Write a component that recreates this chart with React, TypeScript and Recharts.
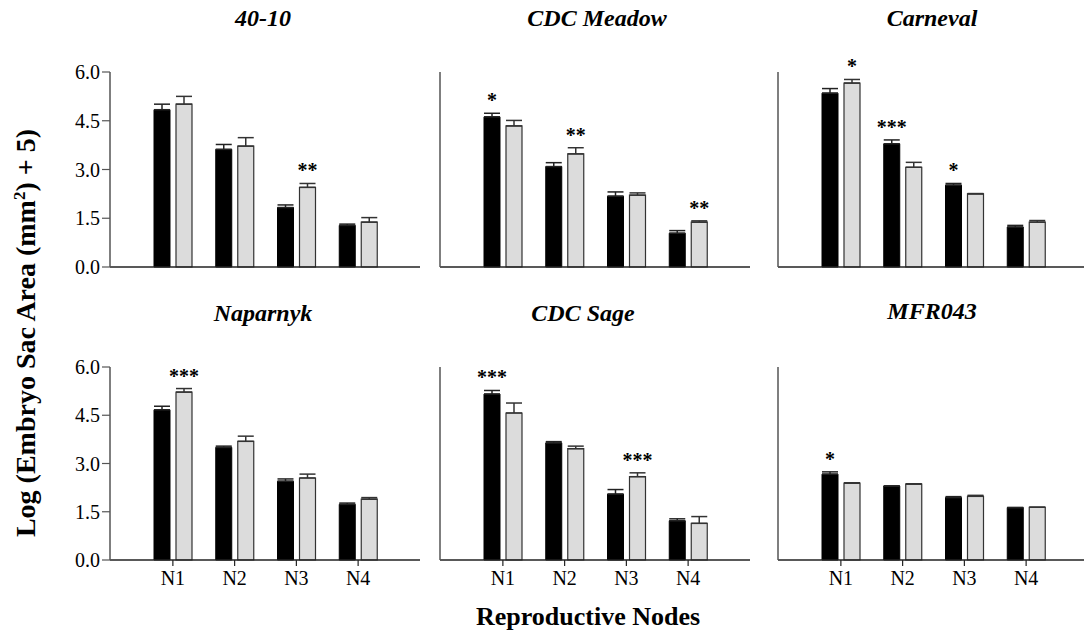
import React from 'react';
import { BarChart, Bar, XAxis, YAxis, ErrorBar, LabelList } from 'recharts';

const nodes = ['N1', 'N2', 'N3', 'N4'];
const yTicks = [0, 1.5, 3, 4.5, 6];

// 40-10
const black4010 = [4.84, 3.62, 1.83, 1.28];
const blackErr4010 = [0.17, 0.15, 0.08, 0.04];
const gray4010 = [5.01, 3.72, 2.45, 1.38];
const grayErr4010 = [0.24, 0.26, 0.12, 0.14];
const blackStar4010 = ['', '', '', ''];
const grayStar4010 = ['', '', '**', ''];

// CDC Meadow
const blackMeadow = [4.62, 3.09, 2.18, 1.04];
const blackErrMeadow = [0.11, 0.12, 0.13, 0.08];
const grayMeadow = [4.34, 3.48, 2.21, 1.38];
const grayErrMeadow = [0.17, 0.19, 0.07, 0.04];
const blackStarMeadow = ['*', '', '', ''];
const grayStarMeadow = ['', '**', '', '**'];

// Carneval
const blackCarneval = [5.35, 3.79, 2.52, 1.23];
const blackErrCarneval = [0.14, 0.12, 0.05, 0.05];
const grayCarneval = [5.66, 3.07, 2.25, 1.38];
const grayErrCarneval = [0.11, 0.15, 0.01, 0.05];
const blackStarCarneval = ['', '***', '*', ''];
const grayStarCarneval = ['*', '', '', ''];

// Naparnyk
const blackNaparnyk = [4.67, 3.5, 2.45, 1.73];
const blackErrNaparnyk = [0.11, 0.04, 0.07, 0.04];
const grayNaparnyk = [5.22, 3.69, 2.55, 1.89];
const grayErrNaparnyk = [0.11, 0.16, 0.12, 0.05];
const blackStarNaparnyk = ['', '', '', ''];
const grayStarNaparnyk = ['***', '', '', ''];

// CDC Sage
const blackSage = [5.16, 3.64, 2.05, 1.22];
const blackErrSage = [0.11, 0.04, 0.14, 0.06];
const graySage = [4.57, 3.46, 2.59, 1.14];
const grayErrSage = [0.31, 0.08, 0.12, 0.21];
const blackStarSage = ['***', '', '', ''];
const grayStarSage = ['', '', '***', ''];

// MFR043
const blackMfr = [2.67, 2.3, 1.94, 1.63];
const blackErrMfr = [0.07, 0.0, 0.03, 0.0];
const grayMfr = [2.39, 2.36, 1.98, 1.64];
const grayErrMfr = [0.01, 0.01, 0.03, 0.0];
const blackStarMfr = ['*', '', '', ''];
const grayStarMfr = ['', '', '', ''];

const FONT = '"Liberation Serif", "Times New Roman", serif';

function buildRows(
  black: number[],
  blackErr: number[],
  gray: number[],
  grayErr: number[],
  blackStar: string[],
  grayStar: string[]
) {
  return nodes.map((node, i) => ({
    node,
    black: black[i],
    gray: gray[i],
    blackErr: [0, blackErr[i]],
    grayErr: [0, grayErr[i]],
    blackStar: blackStar[i],
    grayStar: grayStar[i],
  }));
}

type Row = ReturnType<typeof buildRows>[number];

// significance stars sit just above the error bar cap
const starLabel = (rows: Row[], valKey: 'black' | 'gray', errKey: 'blackErr' | 'grayErr') =>
  (props: any) => {
    const { value, index } = props;
    if (!value) return null;
    const x = Number(props.x);
    const y = Number(props.y);
    const w = Number(props.width);
    const h = Number(props.height);
    const row = rows[index];
    const v = row ? row[valKey] : 0;
    const errPx = row && v ? (row[errKey][1] * h) / v : 0;
    return (
      <text
        x={x + w / 2}
        y={y - errPx - 6}
        textAnchor="middle"
        fontFamily={FONT}
        fontWeight="bold"
        fontSize={20}
        fill="#000"
      >
        {value}
      </text>
    );
  };

interface PanelProps {
  rows: Row[];
  left: number;
  top: number;
  plotHeight: number;
  showY: boolean;
  showX: boolean;
}

function Panel({ rows, left, top, plotHeight, showY, showX }: PanelProps) {
  return (
    <div style={{ position: 'absolute', left: left - 60, top: top - 32 }}>
      <BarChart
        width={380}
        height={32 + plotHeight + 40}
        data={rows}
        margin={{ top: 32, right: 10, bottom: 0, left: 0 }}
        barSize={16}
        barGap={6}
      >
        <XAxis
          dataKey="node"
          padding={{ left: 32, right: 31 }}
          interval={0}
          height={40}
          tickSize={6}
          tickMargin={5}
          axisLine={{ stroke: '#222', strokeWidth: 1.5 }}
          tickLine={{ stroke: '#222', strokeWidth: 1.2 }}
          tick={showX ? { fontSize: 20, fill: '#000', fontFamily: FONT } : false}
        />
        <YAxis
          domain={[0, 6]}
          ticks={yTicks}
          width={60}
          tickSize={8}
          tickMargin={2}
          tickFormatter={(v: number) => v.toFixed(1)}
          axisLine={{ stroke: '#555', strokeWidth: 1.5 }}
          tickLine={{ stroke: '#555', strokeWidth: 1.2 }}
          tick={showY ? { fontSize: 20, fill: '#000', fontFamily: FONT } : false}
        />
        <Bar dataKey="black" fill="#000" stroke="#000" strokeWidth={1} isAnimationActive={false}>
          <ErrorBar dataKey="blackErr" width={8} stroke="#222" strokeWidth={1.5} direction="y" />
          <LabelList dataKey="blackStar" content={starLabel(rows, 'black', 'blackErr')} />
        </Bar>
        <Bar dataKey="gray" fill="#dcdcdc" stroke="#333" strokeWidth={1.2} isAnimationActive={false}>
          <ErrorBar dataKey="grayErr" width={8} stroke="#333" strokeWidth={1.5} direction="y" />
          <LabelList dataKey="grayStar" content={starLabel(rows, 'gray', 'grayErr')} />
        </Bar>
      </BarChart>
    </div>
  );
}

const titleStyle = (cx: number, cy: number): React.CSSProperties => ({
  position: 'absolute',
  left: cx - 150,
  top: cy - 14,
  width: 300,
  textAlign: 'center',
  fontFamily: FONT,
  fontWeight: 'bold',
  fontStyle: 'italic',
  fontSize: 24,
  lineHeight: '28px',
});

export default function App() {
  const rows4010 = buildRows(black4010, blackErr4010, gray4010, grayErr4010, blackStar4010, grayStar4010);
  const rowsMeadow = buildRows(blackMeadow, blackErrMeadow, grayMeadow, grayErrMeadow, blackStarMeadow, grayStarMeadow);
  const rowsCarneval = buildRows(blackCarneval, blackErrCarneval, grayCarneval, grayErrCarneval, blackStarCarneval, grayStarCarneval);
  const rowsNaparnyk = buildRows(blackNaparnyk, blackErrNaparnyk, grayNaparnyk, grayErrNaparnyk, blackStarNaparnyk, grayStarNaparnyk);
  const rowsSage = buildRows(blackSage, blackErrSage, graySage, grayErrSage, blackStarSage, grayStarSage);
  const rowsMfr = buildRows(blackMfr, blackErrMfr, grayMfr, grayErrMfr, blackStarMfr, grayStarMfr);

  return (
    <div
      style={{
        position: 'absolute',
        left: 0,
        top: 0,
        width: 1084,
        height: 630,
        background: '#fff',
        overflow: 'hidden',
        fontFamily: FONT,
      }}
    >
      <div style={titleStyle(263, 18)}>40-10</div>
      <div style={titleStyle(597, 18)}>CDC Meadow</div>
      <div style={titleStyle(932, 18)}>Carneval</div>
      <div style={titleStyle(263, 313)}>Naparnyk</div>
      <div style={titleStyle(583, 313)}>CDC Sage</div>
      <div style={titleStyle(932, 311)}>MFR043</div>

      <Panel rows={rows4010} left={110} top={72} plotHeight={195} showY showX={false} />
      <Panel rows={rowsMeadow} left={440} top={72} plotHeight={195} showY={false} showX={false} />
      <Panel rows={rowsCarneval} left={778} top={72} plotHeight={195} showY={false} showX={false} />
      <Panel rows={rowsNaparnyk} left={110} top={367} plotHeight={193} showY showX />
      <Panel rows={rowsSage} left={440} top={367} plotHeight={193} showY={false} showX />
      <Panel rows={rowsMfr} left={778} top={367} plotHeight={193} showY={false} showX />

      <div
        style={{
          position: 'absolute',
          left: 26 - 250,
          top: 333 - 16,
          width: 500,
          height: 32,
          lineHeight: '32px',
          textAlign: 'center',
          transform: 'rotate(-90deg)',
          fontFamily: FONT,
          fontWeight: 'bold',
          fontSize: 28,
          whiteSpace: 'nowrap',
        }}
      >
        Log (Embryo Sac Area (mm<sup style={{ fontSize: 17, lineHeight: 0 }}>2</sup>) + 5)
      </div>
      <div
        style={{
          position: 'absolute',
          left: 588 - 200,
          top: 605,
          width: 400,
          lineHeight: '24px',
          textAlign: 'center',
          fontFamily: FONT,
          fontWeight: 'bold',
          fontSize: 26,
        }}
      >
        Reproductive Nodes
      </div>
    </div>
  );
}
